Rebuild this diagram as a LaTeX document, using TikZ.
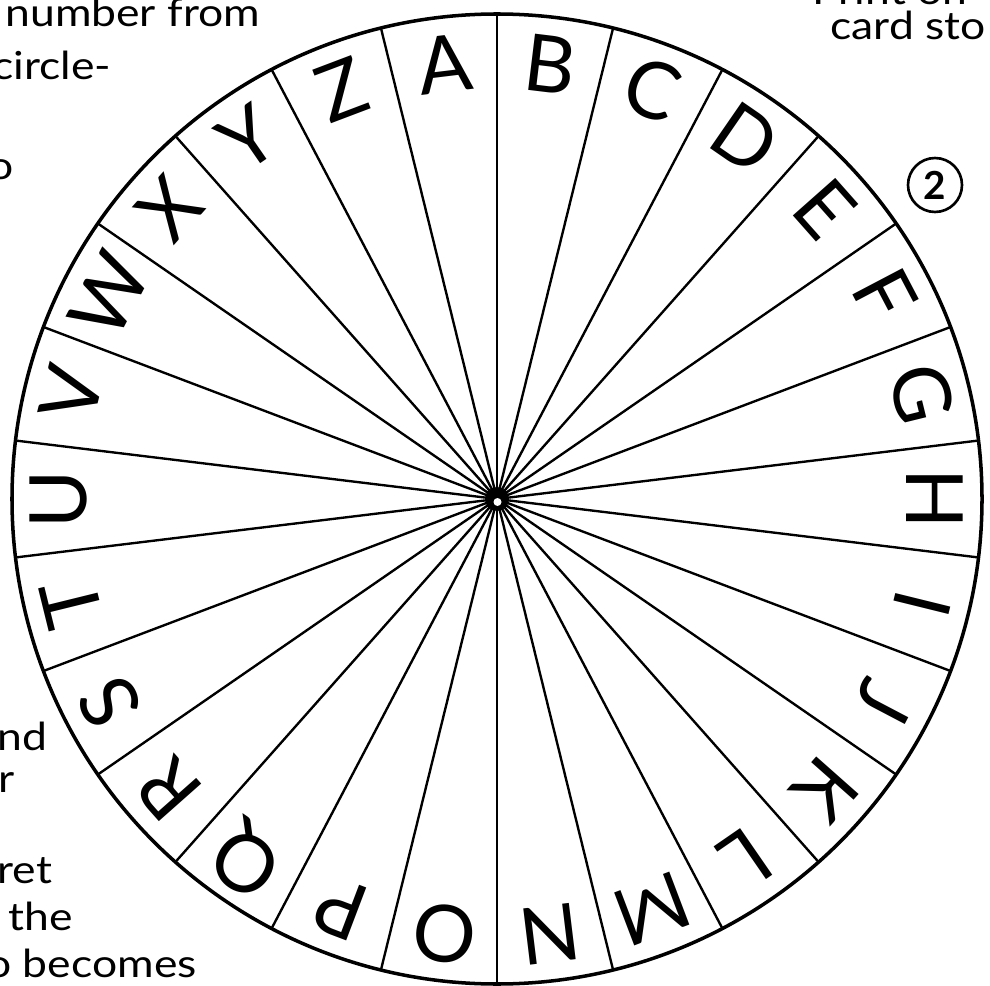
\documentclass[tikz,border=0pt]{standalone}
\usepackage{fontspec}
\setmainfont{Lato}
\newfontfamily\wheelfont{Lato}
\begin{document}
\begin{tikzpicture}[x=0.02cm,y=0.02cm,
  rim/.style={line width=2pt},
  spoke/.style={line width=1.35pt},
  letter/.style={font=\wheelfont\fontsize{45}{48}\selectfont, inner sep=0pt},
  note/.style={font=\fontsize{22}{24}\selectfont, anchor=base west, inner sep=0pt, xscale=1.15}]
\useasboundingbox (0,0) rectangle (990,-986);
\clip (0,0) rectangle (990,-986);
\coordinate (c) at (497,-499);
\begin{scope}[shift={(c)}]
  \foreach \k in {0,...,25} {
    \coordinate (r\k) at (90+\k*13.84615:485);
    \draw[spoke] (0,0) -- (r\k);
  }
  \draw[rim] (0,0) circle[radius=485];
  \foreach \L [count=\i from 0] in {A,B,C,D,E,F,G,H,I,J,K,L,M,N,O,P,Q,R,S,T,U,V,W,X,Y,Z} {
    \pgfmathsetmacro\ang{96.923-\i*13.84615}
    \node[letter, rotate=\ang-90] (L\L) at (\ang:438) {\L};
  }
  \fill (0,0) circle[radius=12];
  \fill[white] (0.5,-3) circle[radius=4];
\end{scope}
\node[draw, circle, line width=1.5pt, minimum size=1.08cm, inner sep=0pt, font=\bfseries\fontsize{22}{24}\selectfont] (two) at (935,-185) {2};
\node[note] (n1) at (5,-27) {number from};
\node[note] (n2) at (-8,-80) {circle-};
\node[note] (n3) at (-12,-180) {o};
\node[note] (n4) at (-3,-750) {nd};
\node[note] (n5) at (-2,-792) {r};
\node[note] (n6) at (-3,-883) {ret};
\node[note] (n7) at (8,-930) {the};
\node[note] (n8) at (-14,-977) {o becomes};
\node[note] (n9) at (812,-5) {Print on};
\node[note] (n10) at (830,-40) {card sto};
\end{tikzpicture}
\end{document}
